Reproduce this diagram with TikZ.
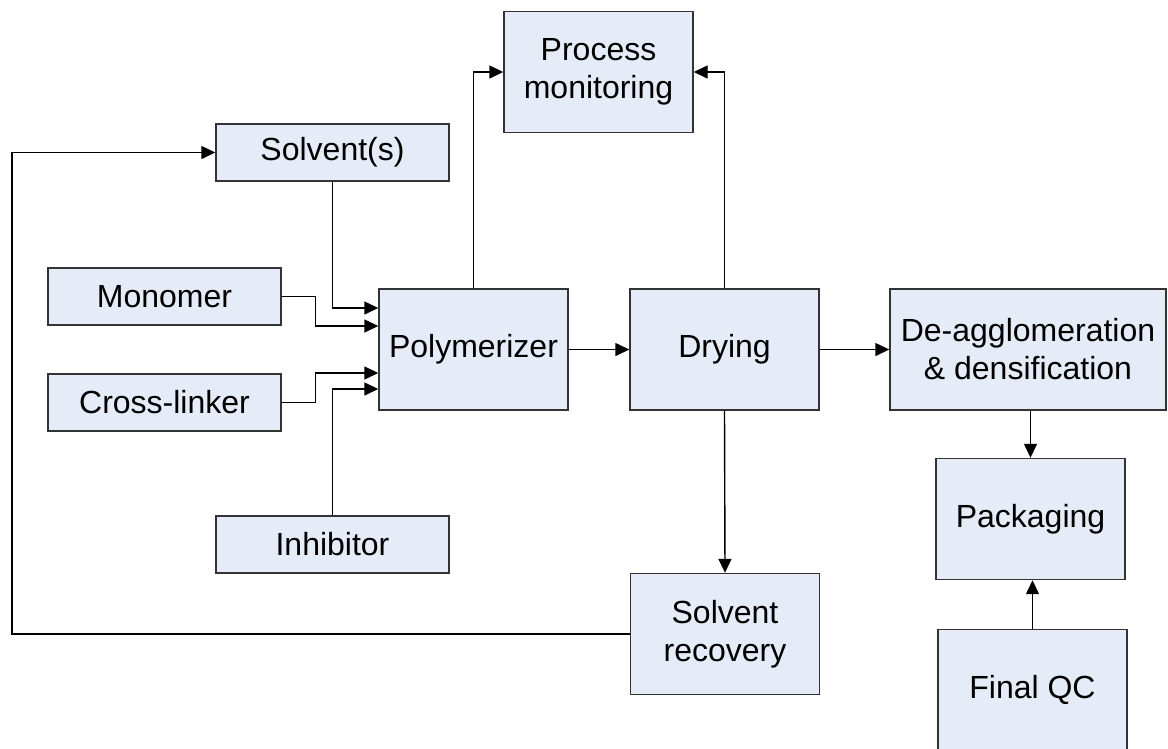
\documentclass[tikz,border=0pt]{standalone}
\usepackage{fontspec}
\setmainfont{Liberation Sans}
\usepackage{xcolor}
\usetikzlibrary{arrows.meta}
\definecolor{boxfill}{HTML}{E6ECF7}
\definecolor{boxline}{HTML}{333333}

\begin{document}
\begin{tikzpicture}[x=1pt, y=-1pt,
    box/.style={draw=boxline, fill=boxfill, line width=1.4pt, align=center,
      inner sep=0pt, font=\fontsize{32}{38}\selectfont},
    wide/.style={box, minimum width=233pt, minimum height=57pt},
    tall/.style={box, minimum width=189pt, minimum height=121pt},
    feed/.style={line width=1.4pt, -{Triangle[length=14pt, width=13pt]}}]
      \useasboundingbox (0,0) rectangle (1168,748);
      \node[tall] (monitor) at (598.5,72) {Process\\monitoring};
      \node[wide] (solvent) at (332.5,152.5) {Solvent(s)};
      \node[wide] (monomer) at (164.5,296.5) {Monomer};
      \node[wide] (crosslinker) at (164.5,402.5) {Cross-linker};
      \node[wide] (inhibitor) at (332.5,544.5) {Inhibitor};
      \node[tall] (polymerizer) at (473.5,349.5) {Polymerizer};
      \node[tall] (drying) at (724.5,349.5) {Drying};
      \node[box, minimum width=276pt, minimum height=121pt] (deagg) at (1028,349.5) {De-agglomeration\\\& densification};
      \node[tall] (packaging) at (1030.5,519) {Packaging};
      \node[tall] (finalqc) at (1032.5,690) {Final QC};
      \node[tall] (recovery) at (725,634) {Solvent\\recovery};
      \coordinate (loop) at (12,152.5);
      \draw[feed] (solvent.south) |- ([yshift=41.5pt]polymerizer.west);
      \draw[feed] (monomer.east) -- ++(34,0) |- ([yshift=23.5pt]polymerizer.west);
      \draw[feed] (crosslinker.east) -- ++(34,0) |- ([yshift=-23.5pt]polymerizer.west);
      \draw[feed] (inhibitor.north) |- ([yshift=-39.5pt]polymerizer.west);
      \draw[feed] (polymerizer.north) |- (monitor.west);
      \draw[feed] (drying.north) |- (monitor.east);
      \draw[feed] (polymerizer.east) -- (drying.west);
      \draw[feed] (drying.east) -- (deagg.west);
      \draw[feed] (drying.south) -- (recovery.north);
      \draw[feed] (packaging.north |- deagg.south) -- (packaging.north);
      \draw[feed] (finalqc.north) -- (finalqc.north |- packaging.south);
      \draw[feed] (recovery.west) -| (loop) -- (solvent.west);
    \end{tikzpicture}
\end{document}
